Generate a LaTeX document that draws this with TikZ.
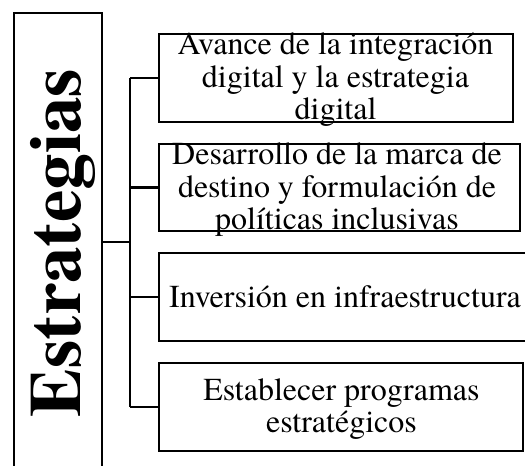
\documentclass[tikz,border=0pt]{standalone}
\usepackage{fontspec}
\setmainfont{TeX Gyre Termes}
\begin{document}
\begin{tikzpicture}[x=1pt,y=-1pt,
  ln/.style={line width=2.2pt},
  boxnode/.style={draw,line width=2.2pt,inner sep=0pt},
  txt/.style={align=center,inner sep=0pt,font=\fontsize{32}{32.5}\selectfont},
  title/.style={rotate=90,anchor=base,inner sep=0pt,font=\fontsize{73}{80}\selectfont\bfseries}]
\clip (0,0) rectangle (525,466);
% left tall box
\node[boxnode,minimum width=88pt,minimum height=467pt] (L) at (58,246.5) {};
\node[title] (T) at (80,243) {Estrategias};
% right boxes
\node[boxnode,minimum width=354pt,minimum height=88pt] (b1) at (336,78) {};
\node[boxnode,minimum width=361pt,minimum height=87pt] (b2) at (339.5,187.5) {};
\node[boxnode,minimum width=372pt,minimum height=88pt] (b3) at (345,297) {};
\node[boxnode,minimum width=364pt,minimum height=88pt] (b4) at (341,407) {};
\node[txt] (t1) at (335.5,80) {Avance de la integración\\digital y la estrategia\\digital};
\node[txt] (t2) at (337,190) {Desarrollo de la marca de\\destino y formulación de\\políticas inclusivas};
\node[txt] (t3) at (345,297) {Inversión en infraestructura};
\node[txt] (t4) at (341.5,409) {Establecer programas\\estratégicos};
% connectors
\coordinate (j) at (130,242);
\draw[ln] (j -| L.east) -- (j);
\draw[ln] (j |- b1.west) -- (j |- b4.west);
\draw[ln] (j |- b1.west) -- (b1.west);
\draw[ln] (j |- b2.west) -- (b2.west);
\draw[ln] (j |- b3.west) -- (b3.west);
\draw[ln] (j |- b4.west) -- (b4.west);
\end{tikzpicture}
\end{document}
